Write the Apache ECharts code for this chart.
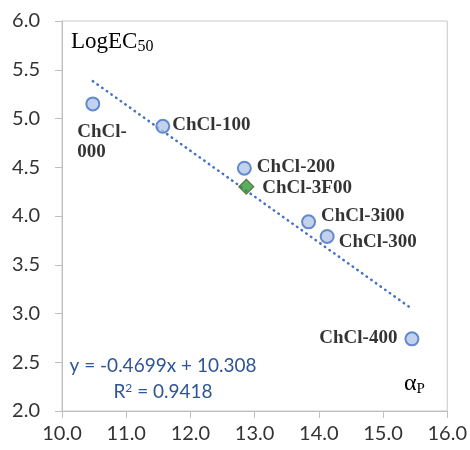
<!DOCTYPE html>
<html>
<head>
<meta charset="utf-8">
<script src="https://cdn.jsdelivr.net/npm/echarts@6/dist/echarts.min.js"></script>
<style>
html, body { margin: 0; padding: 0; background: #fff; }
#chart { width: 470px; height: 450px; }
</style>
</head>
<body>
<div id="chart"></div>
<script>
// data
const names = ['ChCl-000', 'ChCl-100', 'ChCl-200', 'ChCl-3F00', 'ChCl-3i00', 'ChCl-300', 'ChCl-400'];
const alphaP = [10.48, 11.57, 12.84, 12.87, 13.84, 14.13, 15.45];
const logEC50 = [5.15, 4.92, 4.49, 4.30, 3.94, 3.79, 2.74];
const trendSlope = -0.4699;
const trendIntercept = 10.308;
const rSquared = 0.9418;

const chart = echarts.init(document.getElementById('chart'));

// where each label sits relative to its marker (px from marker box top-left)
const labelPlace = {
  'ChCl-000': { position: [-8, 26], align: 'left', verticalAlign: 'top', text: 'ChCl-\n000' },
  'ChCl-100': { position: [17, 6], align: 'left', verticalAlign: 'middle' },
  'ChCl-200': { position: [20, 6], align: 'left', verticalAlign: 'middle' },
  'ChCl-3F00': { position: [24, 9], align: 'left', verticalAlign: 'middle' },
  'ChCl-3i00': { position: [20, 2], align: 'left', verticalAlign: 'middle' },
  'ChCl-300': { position: [19, 13], align: 'left', verticalAlign: 'middle' },
  'ChCl-400': { position: [-7, 7], align: 'right', verticalAlign: 'middle' }
};

const circlePts = [];
const diamondPts = [];
names.forEach((n, i) => {
  const p = labelPlace[n];
  const item = {
    name: n,
    value: [alphaP[i], logEC50[i]],
    label: {
      show: true,
      position: p.position,
      align: p.align,
      verticalAlign: p.verticalAlign,
      formatter: p.text || n
    }
  };
  if (n === 'ChCl-3F00') diamondPts.push(item);
  else circlePts.push(item);
});

const xMin = Math.min(...alphaP);
const xMax = Math.max(...alphaP);
const trend = [
  [xMin, trendSlope * xMin + trendIntercept],
  [xMax, trendSlope * xMax + trendIntercept]
];

const labelFont = {
  fontFamily: 'Liberation Serif',
  fontWeight: 'bold',
  fontSize: 19,
  lineHeight: 20,
  color: '#000'
};

const options = {
  animation: false,
  grid: {
    left: 62, right: 21, top: 21, bottom: 39,
    show: true,
    borderColor: '#c8c8c8',
    borderWidth: 1
  },
  xAxis: {
    type: 'value',
    min: 10, max: 16, interval: 1,
    axisLine: { lineStyle: { color: '#bfbfbf', width: 1 } },
    axisTick: { show: true, length: 7, lineStyle: { color: '#bfbfbf' } },
    splitLine: { show: false },
    axisLabel: {
      margin: 13,
      fontFamily: 'Lato', fontSize: 20, color: '#333',
      formatter: v => v.toFixed(1)
    }
  },
  yAxis: {
    type: 'value',
    min: 2, max: 6, interval: 0.5,
    axisLine: { show: true, lineStyle: { color: '#bfbfbf', width: 1 } },
    axisTick: { show: true, length: 7, lineStyle: { color: '#bfbfbf' } },
    splitLine: { show: false },
    axisLabel: {
      margin: 22,
      fontFamily: 'Lato', fontSize: 20, color: '#333',
      formatter: v => v.toFixed(1)
    }
  },
  series: [
    {
      type: 'line',
      data: trend,
      symbol: 'none',
      z: 1,
      lineStyle: { color: '#4472c4', width: 2.5, type: [0.5, 5.2], cap: 'round' }
    },
    {
      type: 'scatter',
      data: circlePts,
      symbol: 'circle',
      symbolSize: 13,
      z: 3,
      itemStyle: { color: '#b4c7e7', borderColor: '#4472c4', borderWidth: 2 },
      label: labelFont
    },
    {
      type: 'scatter',
      data: diamondPts,
      symbol: 'diamond',
      symbolSize: 15,
      z: 3,
      itemStyle: { color: '#2e9a3a', borderColor: '#4f6228', borderWidth: 1.2 },
      label: labelFont
    }
  ],
  graphic: [
    {
      type: 'text', left: 71, top: 30,
      style: {
        text: '{a|LogEC}{s|50}',
        rich: {
          a: { fontFamily: 'Liberation Serif', fontSize: 23, color: '#000' },
          s: { fontFamily: 'Liberation Serif', fontSize: 16, color: '#000', padding: [10, 0, 0, 0] }
        }
      }
    },
    {
      type: 'text', left: 404, top: 372,
      style: {
        text: '{a|α}{s|P}',
        rich: {
          a: { fontFamily: 'Liberation Serif', fontSize: 24, color: '#000' },
          s: { fontFamily: 'Liberation Serif', fontSize: 15, color: '#000', padding: [10, 0, 0, 0] }
        }
      }
    },
    {
      type: 'text', x: 163, y: 353,
      style: {
        text: 'y = ' + trendSlope + 'x + ' + trendIntercept + '\n{n|R}{p|2}{n| = ' + rSquared + '}',
        align: 'center',
        fontFamily: 'Lato', fontSize: 19, lineHeight: 26, fill: '#2f5597',
        rich: {
          n: { fontFamily: 'Lato', fontSize: 19, color: '#2f5597' },
          p: { fontFamily: 'Lato', fontSize: 12, color: '#2f5597', padding: [0, 0, 8, 0] }
        }
      }
    }
  ]
};

chart.setOption(options);
</script>
</body>
</html>
